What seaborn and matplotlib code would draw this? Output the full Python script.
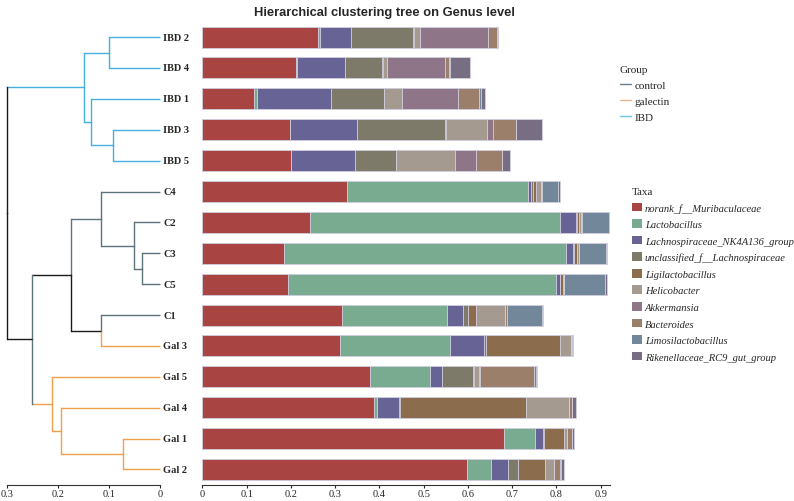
import numpy as np
import pandas as pd
import seaborn as sns
import matplotlib.pyplot as plt
from matplotlib.lines import Line2D
from matplotlib.patches import Patch

# samples, top to bottom (dendrogram leaf order)
samples = ['IBD 2', 'IBD 4', 'IBD 1', 'IBD 3', 'IBD 5', 'C4', 'C2', 'C3', 'C5', 'C1',
           'Gal 3', 'Gal 5', 'Gal 4', 'Gal 1', 'Gal 2']
sample_group = ['IBD'] * 5 + ['control'] * 5 + ['galectin'] * 5

taxa = ['norank_f__Muribaculaceae', 'Lactobacillus', 'Lachnospiraceae_NK4A136_group',
        'unclassified_f__Lachnospiraceae', 'Ligilactobacillus', 'Helicobacter',
        'Akkermansia', 'Bacteroides', 'Limosilactobacillus', 'Rikenellaceae_RC9_gut_group']

muri  = [.261, .212, .116, .198, .201, .327, .243, .184, .193, .315, .312, .379, .387, .681, .598]
lacto = [.004, .002, .007, .000, .000, .409, .566, .637, .605, .237, .247, .135, .007, .070, .055]
nk    = [.071, .108, .168, .151, .145, .007, .035, .017, .009, .036, .078, .027, .051, .019, .038]
uncl  = [.141, .084, .119, .200, .091, .003, .002, .002, .002, .013, .004, .071, .002, .002, .022]
ligi  = [.002, .002, .001, .001, .001, .007, .006, .007, .006, .018, .166, .002, .285, .045, .062]
heli  = [.012, .009, .039, .092, .132, .011, .004, .003, .002, .064, .025, .012, .096, .007, .020]
akk   = [.154, .131, .128, .014, .049, .000, .000, .000, .000, .000, .000, .001, .000, .000, .000]
bact  = [.020, .010, .048, .052, .058, .003, .001, .001, .001, .006, .001, .122, .007, .010, .014]
limo  = [.002, .001, .003, .001, .001, .037, .062, .062, .092, .079, .001, .005, .001, .001, .001]
rik   = [.001, .045, .010, .058, .017, .003, .002, .002, .004, .002, .003, .002, .008, .005, .006]

# clustering merges: (node, child_a, child_b, height)
merges = [
    ('a', 'IBD 2', 'IBD 4', 0.100),
    ('b', 'IBD 3', 'IBD 5', 0.093),
    ('c', 'IBD 1', 'b', 0.135),
    ('d', 'a', 'c', 0.149),
    ('e', 'C3', 'C5', 0.035),
    ('f', 'C2', 'e', 0.050),
    ('g', 'C4', 'f', 0.116),
    ('h', 'C1', 'Gal 3', 0.116),
    ('i', 'g', 'h', 0.175),
    ('j', 'Gal 1', 'Gal 2', 0.073),
    ('k', 'Gal 4', 'j', 0.195),
    ('l', 'Gal 5', 'k', 0.211),
    ('m', 'i', 'l', 0.250),
    ('root', 'd', 'm', 0.300),
]

taxa_colors = ['#a84543', '#79ab91', '#676495', '#7e7a6a', '#8b6c4c',
               '#a59a8f', '#8e7688', '#9c7f6a', '#72889a', '#786e83']
group_colors = {'control': '#5d747c', 'galectin': '#f0a04b', 'IBD': '#45b0e0'}
legend_group_colors = {'control': '#6a7f88', 'galectin': '#f2b58a', 'IBD': '#6cc4ec'}
mixed = '#1a1a1a'
# vertical segment colours that differ from the child colour in the original
vline_override = {'m': group_colors['control'], 'root': mixed}

sns.set_style('white')
plt.rcParams['font.family'] = ['Liberation Serif', 'DejaVu Serif']

fig = plt.figure(figsize=(7.94, 5.02), dpi=100)
ax_d = fig.add_axes([0.0088, 0.032, 0.1927, 0.926])
ax_b = fig.add_axes([0.2548, 0.032, 0.5135, 0.926])

# ---- stacked bars (cumulative, drawn from the last taxon to the first)
df = pd.DataFrame(dict(zip(taxa, [muri, lacto, nk, uncl, ligi, heli, akk, bact, limo, rik])))
df['sample'] = samples
cum = df[taxa].cumsum(axis=1)
for t, col in reversed(list(zip(taxa, taxa_colors))):
    sns.barplot(x=cum[t], y=df['sample'], order=samples, orient='h', color=col,
                saturation=1, width=0.68, edgecolor='#d4d2e2', linewidth=0.6, ax=ax_b)
ax_b.set_xlim(0, 0.921)
ax_b.set_ylim(len(samples) - 0.5, -0.55)
ax_b.set_xlabel('')
ax_b.set_ylabel('')
ax_b.set_yticks([])
ax_b.set_xticks(np.arange(0, 1.0, 0.1))
ax_b.set_xticklabels(['0'] + ['%.1f' % v for v in np.arange(0.1, 1.0, 0.1)])
for s in ['left', 'top', 'right']:
    ax_b.spines[s].set_visible(False)
ax_b.spines['bottom'].set_color('#333333')
ax_b.spines['bottom'].set_linewidth(0.8)
ax_b.tick_params(axis='x', length=2.5, width=0.8, pad=0.5, labelsize=7.5, bottom=True)

# ---- dendrogram
pos = {s: i for i, s in enumerate(samples)}
hgt = {s: 0.0 for s in samples}
grp = {s: {g} for s, g in zip(samples, sample_group)}
for node, ca, cb, h in merges:
    pos[node] = (pos[ca] + pos[cb]) / 2
    hgt[node] = h
    grp[node] = grp[ca] | grp[cb]

def node_color(n):
    return group_colors[next(iter(grp[n]))] if len(grp[n]) == 1 else mixed

for node, ca, cb, h in merges:
    for ch in (ca, cb):
        c = node_color(ch)
        ax_d.plot([hgt[ch], h], [pos[ch], pos[ch]], color=c, lw=1.0, clip_on=False,
                  solid_capstyle='butt')
        ax_d.plot([h, h], [pos[node], pos[ch]], color=vline_override.get(node, c), lw=1.0,
                  clip_on=False, solid_capstyle='projecting')

for s in samples:
    ax_d.text(-0.006, pos[s], s, ha='left', va='center', fontweight='bold', fontsize=7.5,
              clip_on=False)

ax_d.set_xlim(0.3, 0)
ax_d.set_ylim(len(samples) - 0.5, -0.55)
ax_d.set_yticks([])
ax_d.set_xticks([0.3, 0.2, 0.1, 0])
ax_d.set_xticklabels(['0.3', '0.2', '0.1', '0'])
for s in ['left', 'top', 'right']:
    ax_d.spines[s].set_visible(False)
ax_d.spines['bottom'].set_color('#333333')
ax_d.spines['bottom'].set_linewidth(0.8)
ax_d.tick_params(axis='x', length=2.5, width=0.8, pad=0.5, labelsize=7.5, bottom=True)

# ---- title
fig.text(384 / 794, 1 - 13 / 502, 'Hierarchical clustering tree on Genus level',
         ha='center', va='center', fontweight='bold', fontsize=9.3, family='Liberation Sans')

# ---- legends
g_handles = [Line2D([], [], color=legend_group_colors[g], lw=1.0) for g in ['control', 'galectin', 'IBD']]
leg1 = fig.legend(g_handles, ['control', 'galectin', 'IBD'], title='Group',
                  loc='upper left', bbox_to_anchor=(620 / 794, 1 - 66 / 502), frameon=False,
                  fontsize=8, title_fontsize=8, alignment='left', handlelength=1.0,
                  handletextpad=0.3, labelspacing=0.55, borderpad=0, borderaxespad=0)

t_handles = [Patch(facecolor=c, edgecolor='none') for c in taxa_colors]
leg2 = fig.legend(t_handles, taxa, title='Taxa', loc='upper left',
                  bbox_to_anchor=(632 / 794, 1 - 188 / 502), frameon=False,
                  title_fontsize=8, alignment='left', handlelength=0.9,
                  handleheight=0.9, handletextpad=0.3, labelspacing=0.62, borderpad=0,
                  borderaxespad=0, prop={'style': 'italic', 'size': 7.6})

fig.savefig('out.png', dpi=100)
